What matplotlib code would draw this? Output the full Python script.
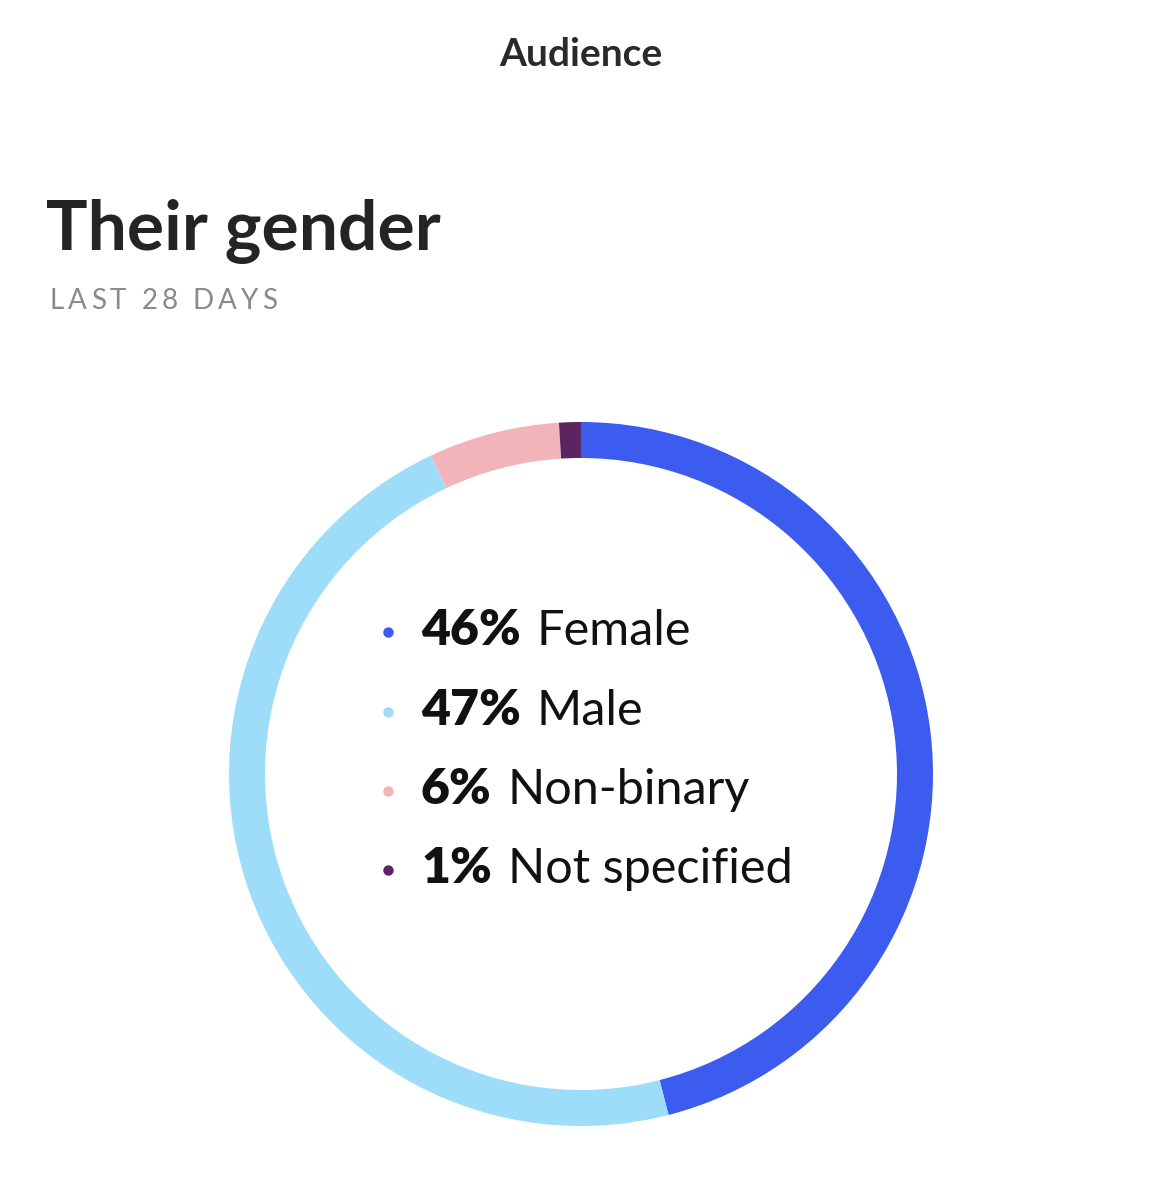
import matplotlib
matplotlib.use("Agg")
import matplotlib.pyplot as plt

categories = ["Female", "Male", "Non-binary", "Not specified"]
values = [46, 47, 6, 1]
labels = ["46%", "47%", "6%", "1%"]
colors = ["#3C5BEF", "#9DDDF9", "#F2B4B9", "#5B2561"]

W, H = 1162, 1200
fig = plt.figure(figsize=(W / 100, H / 100), dpi=100)
ax = fig.add_axes([0, 0, 1, 1])
ax.set_xlim(0, W)
ax.set_ylim(0, H)
ax.axis("off")

FONT = "Lato"

# donut
cx, cy, R, ring = 581, H - 774, 352, 36
ax.pie(values, colors=colors, startangle=90, counterclock=False,
       center=(cx, cy), radius=R, frame=True,
       wedgeprops=dict(width=ring, linewidth=0, antialiased=True))
ax.set_xlim(0, W)
ax.set_ylim(0, H)
ax.set_aspect("equal")
ax.axis("off")

fig.canvas.draw()
renderer = fig.canvas.get_renderer()


def width_of(t):
    bb = t.get_window_extent(renderer=renderer)
    return bb.width


def tracked(x, y, s, size, weight, color, track):
    for ch in s:
        t = ax.text(x, y, ch, fontsize=size, fontweight=weight, color=color,
                    family=FONT, va="baseline", ha="left")
        x += width_of(t) + track if ch != " " else size * 0.35 + track
    return x


ax.text(581, H - 66, "Audience", fontsize=28, fontweight="bold",
        color="#2a2a2a", family=FONT, ha="center", va="baseline")

ax.text(46, H - 250, "Their gender", fontsize=50, fontweight="bold",
        color="#242424", family=FONT, ha="left", va="baseline")

tracked(50, H - 309, "LAST 28 DAYS", 20, "normal", "#8a8a8a", 4.0)

# legend inside donut
baselines = [645, 725, 804, 883]
for lab, cat, col, b in zip(labels, categories, colors, baselines):
    ax.plot([388], [H - b + 13], "o", color=col, markersize=7.5,
            markeredgewidth=0)
    t = ax.text(421, H - b, lab, fontsize=36, fontweight="heavy",
                color="#111111", family=FONT, ha="left", va="baseline")
    wpx = width_of(t)
    ax.text(421 + wpx + 16, H - b, cat, fontsize=35, fontweight="normal",
            color="#111111", family=FONT, ha="left", va="baseline")

fig.savefig("out.png", dpi=100, facecolor="white")
